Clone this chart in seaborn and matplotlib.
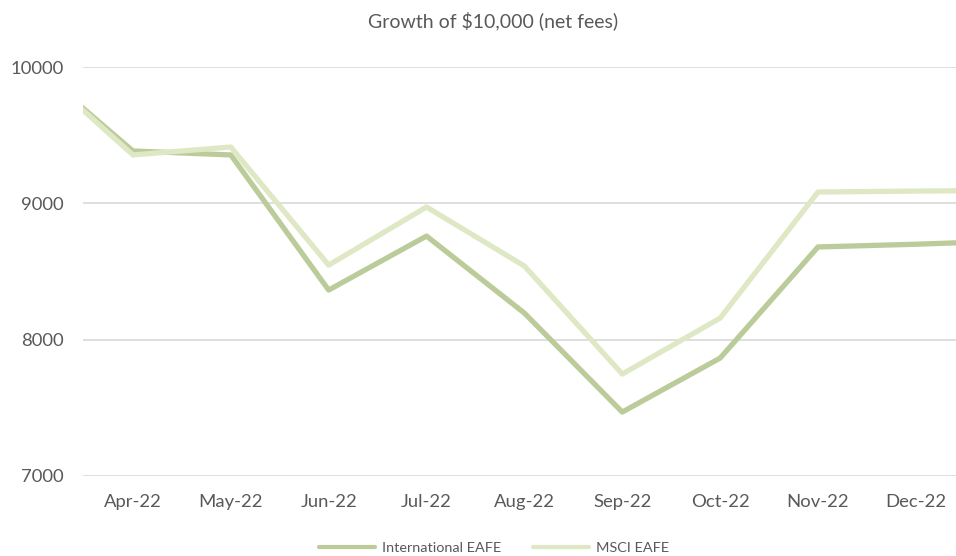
import pandas as pd
import matplotlib.pyplot as plt
import seaborn as sns

# monthly values (Mar-22 start at 10000, Jan-23 only partly visible)
months = ["Mar-22", "Apr-22", "May-22", "Jun-22", "Jul-22", "Aug-22",
          "Sep-22", "Oct-22", "Nov-22", "Dec-22", "Jan-23"]
intl_eafe = [10000, 9384, 9355, 8364, 8760, 8195, 7469, 7865, 8680, 8700, 8725]
msci_eafe = [10000, 9355, 9413, 8547, 8973, 8540, 7748, 8158, 9083, 9090, 9095]
tick_labels = months[1:10]

df = pd.DataFrame({
    "idx": list(range(len(months))) * 2,
    "value": intl_eafe + msci_eafe,
    "series": ["International EAFE"] * len(months) + ["MSCI EAFE"] * len(months),
})

sns.set_style("white")
plt.rcParams["font.family"] = ["Lato", "DejaVu Sans"]

text_col = "#595959"
palette = {"International EAFE": "#BBCB99", "MSCI EAFE": "#DEE8C4"}

fig = plt.figure(figsize=(9.56, 5.56), dpi=100)
ax = fig.add_axes([83 / 956, 80 / 556, 1 - 83 / 956, 409 / 556])

sns.lineplot(data=df, x="idx", y="value", hue="series", palette=palette,
             linewidth=3.8, ax=ax, legend=True, zorder=3)

ax.set_xlim(0.49, 9.41)
ax.set_ylim(7000, 10000)
ax.set_yticks([7000, 8000, 9000, 10000])
ax.set_xticks(range(1, 10))
ax.set_xticklabels(tick_labels)
ax.grid(axis="y", color="#D9D9D9", linewidth=1.2)
ax.set_axisbelow(True)
ax.tick_params(axis="both", length=0, labelsize=13.3, colors=text_col)
ax.tick_params(axis="y", pad=14)
ax.tick_params(axis="x", pad=13)
ax.set_xlabel("")
ax.set_ylabel("")
for s in ax.spines.values():
    s.set_visible(False)

fig.text(0.516, 1 - 21 / 556, "Growth of $10,000 (net fees)", ha="center", va="center",
         fontsize=14, color=text_col)

leg = ax.legend(loc="center", bbox_to_anchor=(494 / 956, 1 - 548 / 556),
                bbox_transform=fig.transFigure, ncol=2, frameon=False,
                fontsize=10.4, handlelength=3.9, handletextpad=0.5, columnspacing=2.15,
                labelcolor=text_col)
for line in leg.get_lines():
    line.set_linewidth(3)

fig.savefig("out.png", dpi=100)
